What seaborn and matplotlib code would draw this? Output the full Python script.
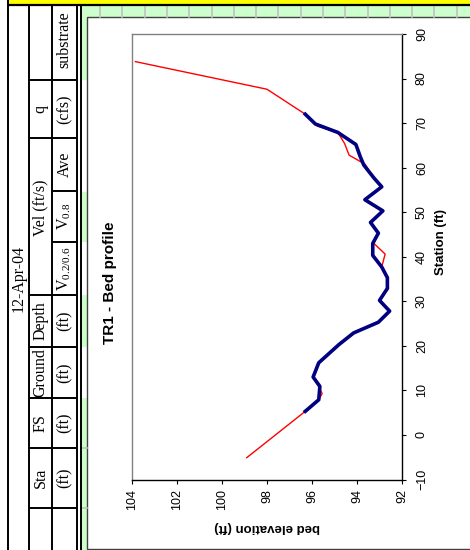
import numpy as np
import pandas as pd
import matplotlib
matplotlib.use("Agg")
import matplotlib.pyplot as plt
import seaborn as sns
from matplotlib.patches import Rectangle

# bed profile surveys, station (ft) vs bed elevation (ft)
station_jun04 = [-5.1, 5.3, 7.9, 9.3, 10.9, 13.0, 16.2, 20.3, 22.9, 25.3, 27.8, 30.2, 32.9,
                 35.3, 37.7, 40.6, 43.0, 45.3, 47.7, 50.3, 52.8, 55.7, 57.7, 60.8, 62.8,
                 65.4, 67.9, 69.3, 72.0, 77.6, 83.8]
elev_jun04 = [98.9, 96.3, 95.7, 95.55, 95.7, 95.95, 95.7, 94.8, 94.15, 93.05, 92.55, 93.0, 92.6,
              92.65, 92.9, 92.75, 93.25, 93.05, 93.4, 92.85, 93.65, 92.9, 93.25, 93.65, 94.35,
              94.55, 94.85, 95.75, 96.3, 98.0, 103.85]

station_may05 = [5.3, 7.9, 10.9, 13.0, 16.2, 20.3, 22.9, 25.3, 27.8, 30.2, 32.9, 35.3, 37.7,
                 40.3, 43.0, 45.3, 47.7, 50.3, 52.8, 55.7, 57.7, 60.6, 62.4, 65.2, 67.9, 69.8, 72.0]
elev_may05 = [96.3, 95.7, 95.65, 95.95, 95.7, 94.8, 94.15, 93.05, 92.55, 93.0, 92.65, 92.65, 92.9,
              93.3, 93.3, 93.05, 93.4, 92.85, 93.65, 92.9, 93.25, 93.7, 93.85, 94.05, 94.85, 95.85, 96.3]

survey_labels = ["25-Jun-04", "3-May-05"]
station_ticks = list(range(-10, 91, 10))
elev_ticks = list(range(92, 105, 2))

# spreadsheet header (rotated)
row1_labels = ["q", "Vel (ft/s)", "Depth", "Ground", "FS", "Sta"]
row2_labels = ["(cfs)", "Ave", r"V$_{\mathrm{0.8}}$", r"V$_{\mathrm{0.2/0.6}}$", "(ft)", "(ft)", "(ft)", "(ft)"]

plt.rcParams['font.family'] = ['Liberation Sans', 'DejaVu Sans']
plt.rcParams['mathtext.fontset'] = 'custom'
plt.rcParams['mathtext.rm'] = 'Liberation Serif'

W, H = 470, 550
fig = plt.figure(figsize=(4.7, 5.5), dpi=100)

# ---- background sheet (pixel coords) ----
bg = fig.add_axes([0, 0, 1, 1])
bg.set_xlim(0, W)
bg.set_ylim(H, 0)
bg.axis('off')

green = '#CCFFCC'
bg.add_patch(Rectangle((8, 0), W - 8, 4, color='#FFFF00', lw=0))
bg.add_patch(Rectangle((80, 5), W - 80, 12, color=green, lw=0))
for y0, y1 in [(5, 80), (192, 242), (295, 347), (398, 550)]:
    bg.add_patch(Rectangle((81, y0), 6, y1 - y0, color=green, lw=0))
for gx in np.arange(100, W, 22.3):
    bg.plot([gx, gx], [5, 16.5], color='#C0C0C0', lw=1.2)
for gy in [448, 508]:
    bg.plot([81, 87], [gy, gy], color='#C0C0C0', lw=1.2)
bg.hlines(4.5, 8, W, color='black', lw=1.6)

# table grid
for vx in [8, 29, 52, 77, 80.5]:
    bg.vlines(vx, 4.5 if vx > 8 else 0, H, color='black', lw=1.4)
for hy in [80, 138, 295, 347, 398, 448, 508]:
    bg.hlines(hy, 29, 77, color='black', lw=1.4)
for hy in [191, 242]:
    bg.hlines(hy, 52, 77, color='black', lw=1.4)

serif = 'Liberation Serif'
tsz = 11.5
bg.text(18.5, 278, "12-Apr-04", rotation=90, ha='center', va='center', family=serif, fontsize=tsz)
row1_y = [109, 208, 321, 372.5, 423, 478]
for lab, y in zip(row1_labels, row1_y):
    bg.text(40.5, y, lab, rotation=90, ha='center', va='center', family=serif, fontsize=tsz)
row2_y = [109, 164.5, 216.5, 268.5, 321, 372.5, 423, 478]
for lab, y in zip(row2_labels, row2_y):
    bg.text(64.5, y, lab, rotation=90, ha='center', va='center', family=serif, fontsize=tsz)
bg.text(64.5, 40, "substrate", rotation=90, ha='center', va='center', family=serif, fontsize=tsz)

# chart area
bg.add_patch(Rectangle((87, 16.5), W - 86, 532, facecolor='white', edgecolor='#404040', lw=1.0))

# ---- plot ----
ax = fig.add_axes([132 / W, 1 - 479.5 / H, (402 - 132) / W, (479.5 - 34) / H])
df_jun = pd.DataFrame({'station': station_jun04, 'elevation': elev_jun04})
df_may = pd.DataFrame({'station': station_may05, 'elevation': elev_may05})
sns.lineplot(data=df_jun, x='elevation', y='station', sort=False, estimator=None,
             color='#FF0000', linewidth=1.0, ax=ax)
sns.lineplot(data=df_may, x='elevation', y='station', sort=False, estimator=None,
             color='#000080', linewidth=2.6, ax=ax)

ax.set_xlim(104, 92)
ax.set_ylim(-10, 90)
ax.set_xticks(elev_ticks)
ax.set_yticks(station_ticks)
ax.set_xlabel('')
ax.set_ylabel('')
ax.yaxis.tick_right()
ax.tick_params(axis='x', direction='out', length=3, width=0.8, labelsize=9,
               labelrotation=90, pad=4)
ax.tick_params(axis='y', direction='out', length=3, width=0.8, labelsize=9,
               labelrotation=90, pad=7)
for lbl in ax.get_yticklabels():
    lbl.set_va('center')
for s in ['left', 'top']:
    ax.spines[s].set_color('#808080')
    ax.spines[s].set_linewidth(1.0)
for s in ['right', 'bottom']:
    ax.spines[s].set_color('black')
    ax.spines[s].set_linewidth(1.0)

# labels and title
bg.text(110, 283, "TR1 - Bed profile", rotation=90, ha='center', va='center',
        fontsize=11, fontweight='bold')
bg.text(441, 242, "Station (ft)", rotation=90, ha='center', va='center',
        fontsize=9.5, fontweight='bold')
bg.text(267, 527, "bed elevation (ft)", rotation=180, ha='center', va='center',
        fontsize=9.5, fontweight='bold')

# legend box (rotated)
bg.add_patch(Rectangle((216, 184), 46, 156, facecolor='#808080', lw=0, zorder=3))
bg.add_patch(Rectangle((214, 182), 46, 156, facecolor='white', edgecolor='black', lw=1.0, zorder=4))
bg.plot([226, 226], [283, 313], color='#FF0000', lw=1.0, zorder=5)
bg.plot([248, 248], [283, 313], color='#000080', lw=2.6, zorder=5)
bg.text(226, 271, survey_labels[0], rotation=90, ha='center', va='bottom', fontsize=11, zorder=5)
bg.text(248, 271, survey_labels[1], rotation=90, ha='center', va='bottom', fontsize=11, zorder=5)

fig.savefig('out.png', dpi=100)
